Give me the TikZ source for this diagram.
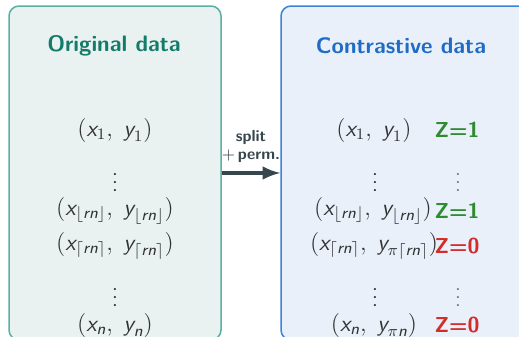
\documentclass[tikz,border=0pt]{standalone}
\usepackage{amsmath}
\usepackage{amssymb}
\usepackage{sansmath}
\usepackage{tikz}
\usetikzlibrary{matrix}

\definecolor{origfill}{HTML}{E9F2F1}
\definecolor{origline}{HTML}{5AAFA2}
\definecolor{origtitle}{HTML}{137B6A}
\definecolor{contfill}{HTML}{E9F0FA}
\definecolor{contline}{HTML}{3C82D8}
\definecolor{conttitle}{HTML}{1F6CC6}
\definecolor{zone}{HTML}{2E8B30}
\definecolor{zzero}{HTML}{D42B2B}
\definecolor{arrowgray}{HTML}{36464C}
\definecolor{textgray}{HTML}{333333}

\newcommand{\sx}{\textit{x}}
\newcommand{\sy}{\textit{y}}
\newcommand{\srn}{\textit{rn}}
\newcommand{\sn}{\textit{n}}

\begin{document}
\begin{tikzpicture}[x=0.5pt,y=-0.5pt,
panel/.style={rounded corners=5pt,line width=0.75pt,inner sep=0pt,minimum height=167pt},
title/.style={font=\sffamily\bfseries\fontsize{11.2}{13}\selectfont},
pair/.style={text=textgray,font=\sffamily\sansmath\fontsize{11.5}{13}\selectfont,inner sep=1pt},
zlab/.style={font=\sffamily\bfseries\fontsize{10.8}{12}\selectfont,inner sep=1pt}
]
\clip (0,0) rectangle (519,337);
\useasboundingbox (0,0) rectangle (519,337);
\node (orig) [panel,draw=origline,fill=origfill,minimum width=106pt] at (115,173) {};
\node (cont) [panel,draw=contline,fill=contfill,minimum width=139.5pt] at (420.5,173) {};
\node (origtitle) [title,text=origtitle] at (114,46) {Original data};
\node (conttitle) [title,text=conttitle] at (401,46) {Contrastive data};
% original pairs
\node (o1) [pair] at (115,130) {$(\sx_1,\; \sy_1)$};
\node (od1) [pair] at (115,177) {$\vdots$};
\node (ofl) [pair] at (115,211) {$(\sx_{\lfloor \srn\rfloor},\; \sy_{\lfloor \srn\rfloor})$};
\node (oce) [pair] at (115,246) {$(\sx_{\lceil \srn\rceil},\; \sy_{\lceil \srn\rceil})$};
\node (od2) [pair] at (115,292) {$\vdots$};
\node (on) [pair] at (115,325) {$(\sx_\sn,\; \sy_\sn)$};
% contrastive pairs
\node (c1) [pair] at (374,130) {$(\sx_1,\; \sy_1)$};
\node (cd1) [pair] at (375,177) {$\vdots$};
\node (cfl) [pair] at (373,211) {$(\sx_{\lfloor \srn\rfloor},\; \sy_{\lfloor \srn\rfloor})$};
\node (cce) [pair] at (374,246) {$(\sx_{\lceil \srn\rceil},\; \sy_{\pi\lceil \srn\rceil})$};
\node (cd2) [pair] at (375,292) {$\vdots$};
\node (cn) [pair] at (374,325) {$(\sx_\sn,\; \sy_{\pi \sn})$};
% labels
\node (z1) [zlab,text=zone] at (457,130) {Z=1};
\node (zd1) [pair,text=arrowgray!70] at (458,177) {$\vdots$};
\node (z2) [zlab,text=zone] at (457,211) {Z=1};
\node (z3) [zlab,text=zzero] at (457,246) {Z=0};
\node (zd2) [pair,text=arrowgray!70] at (458,292) {$\vdots$};
\node (z4) [zlab,text=zzero] at (457,325) {Z=0};
% split arrow
\draw [arrowgray,line width=2pt,-latex] (orig.east) -- node [above,font=\sffamily\bfseries\fontsize{8}{9}\selectfont,align=center,inner sep=4pt] {split\\$+$\,perm.} (cont.west);
\end{tikzpicture}
\end{document}
